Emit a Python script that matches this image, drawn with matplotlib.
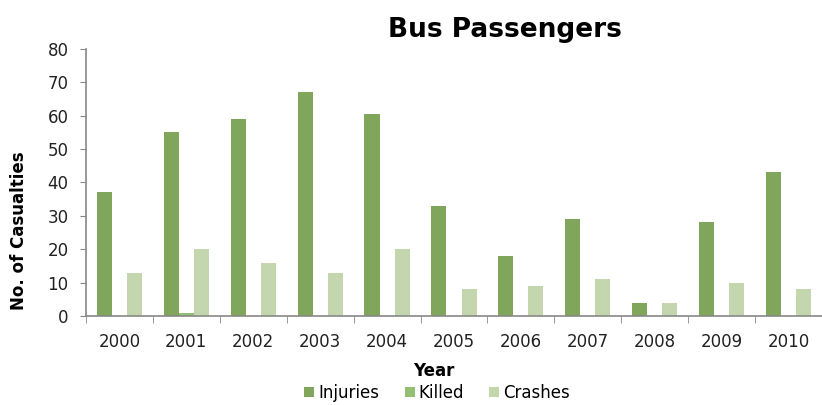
import numpy as np
import matplotlib.pyplot as plt

years = ['2000', '2001', '2002', '2003', '2004', '2005', '2006', '2007', '2008', '2009', '2010']
injuries = [37, 55, 59, 67, 60.5, 33, 18, 29, 4, 28, 43]
killed = [0, 1, 0, 0, 0, 0, 0, 0, 0, 0, 0]
crashes = [13, 20, 16, 13, 20, 8, 9, 11, 4, 10, 8]

plt.rcParams['font.family'] = ['DejaVu Sans']

fig = plt.figure(figsize=(8.22, 4.05), dpi=100)
ax = fig.add_axes([0.1046, 0.22, 0.8954, 0.659])

x = np.arange(len(years))
w = 0.225
ax.bar(x - w, injuries, w, color='#7fa65a', label='Injuries')
ax.bar(x, killed, w, color='#93bf72', label='Killed')
ax.bar(x + w, crashes, w, color='#c3d6ad', label='Crashes')

ax.set_xlim(-0.5, len(years) - 0.5)
ax.set_ylim(0, 80)
ax.set_yticks(range(0, 81, 10))
ax.set_xticks(x)
ax.set_xticklabels(years)
ax.set_xticks(np.arange(-0.5, len(years), 1), minor=True)
ax.tick_params(axis='x', which='major', length=0, pad=12, labelsize=12, colors='#222222')
ax.tick_params(axis='x', which='minor', length=5, color='#888888')
ax.tick_params(axis='y', length=4.5, color='#888888', labelsize=12, labelcolor='#222222', pad=8)

for s in ['top', 'right']:
    ax.spines[s].set_visible(False)
for s in ['left', 'bottom']:
    ax.spines[s].set_color('#888888')
    ax.spines[s].set_linewidth(1.2)

# axis titles placed in figure coordinates
fig.text(0.528, 0.084, 'Year', ha='center', va='center', fontsize=12, fontweight='bold')
fig.text(0.023, 0.43, 'No. of Casualties', ha='center', va='center', rotation=90,
         fontsize=12, fontweight='bold')
fig.text(0.614, 0.926, 'Bus Passengers', ha='center', va='center', fontsize=19, fontweight='bold')

fig.legend(loc='center', bbox_to_anchor=(0.532, 0.03), ncol=3, frameon=False,
           fontsize=12, handlelength=0.6, handleheight=0.6, handletextpad=0.25,
           columnspacing=1.5, borderpad=0)

fig.savefig('out.png', dpi=100)
